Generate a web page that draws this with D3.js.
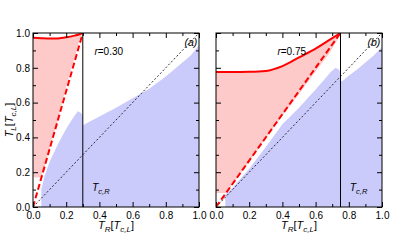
<!DOCTYPE html>
<html>
<head>
<meta charset="utf-8">
<script src="https://cdn.jsdelivr.net/npm/d3@7"></script>
<style>
  body { margin: 0; background: #fff; }
  svg { font-family: "Liberation Sans", Arial, sans-serif; }
  .axis path { display: none; }
  .axis line { stroke: #000; stroke-width: 1; }
  .axis text { fill: #000; font-size: 10px; font-family: "Liberation Sans", Arial, sans-serif; }
</style>
</head>
<body>
<script>
// ticks
const majorTicks = [0, 0.2, 0.4, 0.6, 0.8, 1.0];
const minorTicks = [0.1, 0.3, 0.5, 0.7, 0.9];

// panel (a), r = 0.30
const aTopX = [0, 0.05, 0.1, 0.15, 0.2, 0.25, 0.28, 0.3];
const aTopY = [0.973, 0.97, 0.968, 0.969, 0.975, 0.985, 0.993, 1.0];
const aPinkEdgeX = [0.3, 0.285, 0.26, 0.22, 0.18, 0.15, 0.1, 0.06, 0.051];
const aPinkEdgeY = [1.0, 0.975, 0.89, 0.76, 0.62, 0.5, 0.333, 0.2, 0.17];
const aPinkBottom = 0.17;
const aBlueX = [0.05, 0.05, 0.07, 0.1, 0.15, 0.2, 0.24, 0.27, 0.29, 0.3, 0.3, 0.32, 0.4, 0.5, 0.6, 0.7, 0.8, 0.9, 0.95, 1.0];
const aBlueY = [0, 0.1, 0.18, 0.26, 0.36, 0.45, 0.51, 0.55, 0.54, 0.52, 0.47, 0.48, 0.52, 0.57, 0.625, 0.68, 0.75, 0.83, 0.87, 0.93];

// panel (b), r = 0.75
const bTopX = [0, 0.1, 0.2, 0.3, 0.4, 0.5, 0.6, 0.667, 0.75];
const bTopY = [0.776, 0.776, 0.777, 0.782, 0.81, 0.86, 0.91, 0.95, 1.0];
const bPinkEdgeX = [0.75, 0.73, 0.68, 0.6, 0.5, 0.4, 0.3, 0.2, 0.1, 0.06];
const bPinkEdgeY = [1.0, 0.96, 0.88, 0.78, 0.65, 0.525, 0.395, 0.26, 0.13, 0.08];
const bPinkBottom = 0.08;
const bBlueX = [0.056, 0.056, 0.1, 0.2, 0.3, 0.4, 0.5, 0.6, 0.65, 0.69, 0.72, 0.74, 0.75, 0.75, 0.77, 0.8, 0.85, 0.9, 0.95, 1.0];
const bBlueY = [0, 0.07, 0.11, 0.22, 0.345, 0.475, 0.57, 0.675, 0.73, 0.775, 0.8, 0.79, 0.77, 0.72, 0.73, 0.755, 0.79, 0.83, 0.87, 0.92];

const panels = [
  { tag: "(a)", r: "0.30", tc: 0.3, range: [33, 199], yLabels: true,
    topX: aTopX, topY: aTopY, edgeX: aPinkEdgeX, edgeY: aPinkEdgeY, bottom: aPinkBottom,
    blueX: aBlueX, blueY: aBlueY },
  { tag: "(b)", r: "0.75", tc: 0.75, range: [216, 382], yLabels: false,
    topX: bTopX, topY: bTopY, edgeX: bPinkEdgeX, edgeY: bPinkEdgeY, bottom: bPinkBottom,
    blueX: bBlueX, blueY: bBlueY }
];

const svg = d3.select("body").append("svg")
  .attr("width", 415)
  .attr("height", 240);

const y = d3.scaleLinear().domain([0, 1]).range([207, 33]);
const fmt = d3.format(".1f");

panels.forEach(p => {
  const x = d3.scaleLinear().domain([0, 1]).range(p.range);
  const g = svg.append("g");
  const line = d3.line().x(d => x(d[0])).y(d => y(d[1]));
  const smooth = d3.line().x(d => x(d[0])).y(d => y(d[1])).curve(d3.curveMonotoneX);
  const clipId = "clip" + p.tag.replace(/\W/g, "");

  svg.append("clipPath").attr("id", clipId)
    .append("rect")
    .attr("x", x(0)).attr("y", y(1))
    .attr("width", x(1) - x(0)).attr("height", y(0) - y(1));

  const plot = g.append("g").attr("clip-path", `url(#${clipId})`);

  // blue region
  const blue = [[p.blueX[0], 0]].concat(p.blueX.map((v, i) => [v, p.blueY[i]]), [[1, 0]]);
  plot.append("path")
    .attr("d", line(blue) + "Z")
    .attr("fill", "#cbcbfb");

  // pink region: smooth top edge + lower edge
  const top = p.topX.map((v, i) => [v, p.topY[i]]);
  const lower = p.edgeX.map((v, i) => [v, p.edgeY[i]]).concat([[0, p.bottom]]);
  plot.append("path")
    .attr("d", smooth(top) + line(lower).replace(/^M/, "L") + "Z")
    .attr("fill", "#fdc9c9");

  // diagonal T_L = T_R
  plot.append("path")
    .attr("d", line([[0, 0], [1, 1]]))
    .attr("fill", "none")
    .attr("stroke", "#000")
    .attr("stroke-width", 0.8)
    .attr("stroke-dasharray", "2,2");

  // red dashed T_L = T_R / r
  plot.append("path")
    .attr("d", line([[0, 0], [p.tc, 1]]))
    .attr("fill", "none")
    .attr("stroke", "#f00")
    .attr("stroke-width", 2)
    .attr("stroke-dasharray", "6,3");

  // red solid top curve
  plot.append("path")
    .attr("d", smooth(top))
    .attr("fill", "none")
    .attr("stroke", "#f00")
    .attr("stroke-width", 2);

  // T_c,R vertical
  g.append("line")
    .attr("x1", x(p.tc)).attr("x2", x(p.tc))
    .attr("y1", y(0)).attr("y2", y(1))
    .attr("stroke", "#000").attr("stroke-width", 1);

  // axes with inward ticks
  const bottom = g.append("g").attr("class", "axis")
    .attr("transform", `translate(0,${y(0)})`)
    .call(d3.axisBottom(x).tickValues(majorTicks).tickSize(-5).tickPadding(3).tickFormat(fmt));
  bottom.selectAll("text").attr("dy", "0.85em");
  g.append("g").attr("class", "axis")
    .attr("transform", `translate(0,${y(0)})`)
    .call(d3.axisBottom(x).tickValues(minorTicks).tickSize(-3).tickFormat(""));
  g.append("g").attr("class", "axis")
    .attr("transform", `translate(0,${y(1)})`)
    .call(d3.axisTop(x).tickValues(majorTicks).tickSize(-5).tickFormat(""));
  g.append("g").attr("class", "axis")
    .attr("transform", `translate(0,${y(1)})`)
    .call(d3.axisTop(x).tickValues(minorTicks).tickSize(-3).tickFormat(""));
  g.append("g").attr("class", "axis")
    .attr("transform", `translate(${x(0)},0)`)
    .call(d3.axisLeft(y).tickValues(majorTicks).tickSize(-5).tickPadding(3)
      .tickFormat(p.yLabels ? fmt : ""));
  g.append("g").attr("class", "axis")
    .attr("transform", `translate(${x(0)},0)`)
    .call(d3.axisLeft(y).tickValues(minorTicks).tickSize(-3).tickFormat(""));
  g.append("g").attr("class", "axis")
    .attr("transform", `translate(${x(1)},0)`)
    .call(d3.axisRight(y).tickValues(majorTicks).tickSize(-5).tickFormat(""));
  g.append("g").attr("class", "axis")
    .attr("transform", `translate(${x(1)},0)`)
    .call(d3.axisRight(y).tickValues(minorTicks).tickSize(-3).tickFormat(""));

  // frame
  g.append("rect")
    .attr("x", x(0)).attr("y", y(1))
    .attr("width", x(1) - x(0)).attr("height", y(0) - y(1))
    .attr("fill", "none").attr("stroke", "#000").attr("stroke-width", 1);

  // annotations
  const rTxt = g.append("text")
    .attr("x", x(0.37)).attr("y", y(0.875))
    .attr("font-size", 10);
  rTxt.append("tspan").attr("font-style", "italic").text("r");
  rTxt.append("tspan").text("=" + p.r);

  g.append("text")
    .attr("x", x(0.99)).attr("y", y(0.925))
    .attr("text-anchor", "end")
    .attr("font-size", 10.5)
    .attr("font-style", "italic")
    .text(p.tag);

  const tcTxt = g.append("text")
    .attr("x", x(p.tc + 0.055)).attr("y", y(0.09))
    .attr("font-size", 10.5).attr("font-style", "italic");
  tcTxt.append("tspan").text("T");
  tcTxt.append("tspan").attr("font-size", 7.5).attr("dy", 2.5).text("c,R");

  // x axis title
  const xt = g.append("text")
    .attr("x", (p.range[0] + p.range[1]) / 2).attr("y", 229)
    .attr("text-anchor", "middle")
    .attr("font-size", 11);
  xt.append("tspan").attr("font-style", "italic").text("T");
  xt.append("tspan").attr("font-style", "italic").attr("font-size", 8).attr("dy", 2.5).text("R");
  xt.append("tspan").attr("dy", -2.5).text("[");
  xt.append("tspan").attr("font-style", "italic").text("T");
  xt.append("tspan").attr("font-style", "italic").attr("font-size", 8).attr("dy", 2.5).text("c,L");
  xt.append("tspan").attr("dy", -2.5).text("]");
});

// y axis title
const yt = svg.append("text")
  .attr("transform", "translate(13,120) rotate(-90)")
  .attr("text-anchor", "middle")
  .attr("font-size", 11);
yt.append("tspan").attr("font-style", "italic").text("T");
yt.append("tspan").attr("font-style", "italic").attr("font-size", 8).attr("dy", 2.5).text("L");
yt.append("tspan").attr("dy", -2.5).text("[");
yt.append("tspan").attr("font-style", "italic").text("T");
yt.append("tspan").attr("font-style", "italic").attr("font-size", 8).attr("dy", 2.5).text("c,L");
yt.append("tspan").attr("dy", -2.5).text("]");
</script>
</body>
</html>
